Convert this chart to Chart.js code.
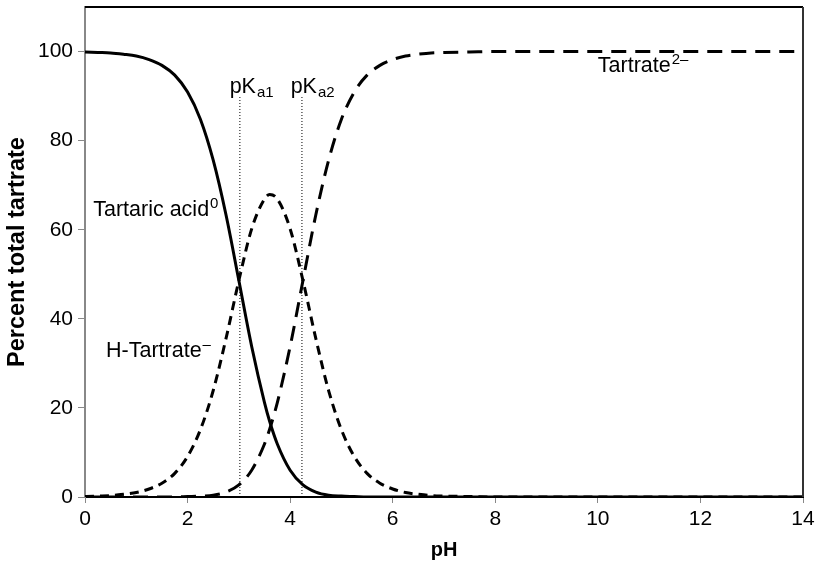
<!DOCTYPE html>
<html>
<head>
<meta charset="utf-8">
<script src="https://cdn.jsdelivr.net/npm/chart.js@4.4.0/dist/chart.umd.min.js"></script>
<style>
  body { margin: 0; background: #fff; }
  #wrap { width: 818px; height: 562px; }
</style>
</head>
<body>
<div id="wrap"><canvas id="speciesChart" width="818" height="562"></canvas></div>
<script>
    // pH grid and species percentages
    const phValues = [0, 0.25, 0.5, 0.75, 1, 1.25, 1.5, 1.75, 2, 2.25, 2.5, 2.75, 3, 3.25, 3.5, 3.6, 3.75,
      4, 4.25, 4.5, 4.75, 5, 5.25, 5.5, 5.75, 6, 6.25, 6.5, 6.75, 7, 7.5, 8, 9, 10, 11, 12, 13, 14];
    const tartaricAcid = [99.9, 99.8, 99.7, 99.4, 99.0, 98.2, 96.9, 94.7, 90.9, 84.8, 75.6, 63.3, 48.6, 33.8, 21.2, 17.0, 11.9,
      6.0, 2.7, 1.1, 0.4, 0.2, 0.1, 0, 0, 0, 0, 0, 0, 0, 0, 0, 0, 0, 0, 0, 0, 0];
    const hTartrate = [0.1, 0.2, 0.3, 0.6, 1.0, 1.8, 3.1, 5.3, 9.1, 15.1, 23.9, 35.6, 48.6, 60.2, 66.9, 67.9, 66.9,
      60.2, 48.6, 35.6, 23.9, 15.1, 9.1, 5.3, 3.1, 1.8, 1.0, 0.6, 0.3, 0.2, 0.1, 0, 0, 0, 0, 0, 0, 0];
    const tartrate = [0, 0, 0, 0, 0, 0, 0, 0, 0.1, 0.2, 0.4, 1.1, 2.7, 6.0, 11.9, 15.2, 21.2,
      33.8, 48.6, 63.3, 75.6, 84.8, 90.9, 94.7, 96.9, 98.2, 99.0, 99.4, 99.7, 99.8, 99.9, 100, 100, 100, 100, 100, 100, 100];
    const pKaValues = [3.02, 4.23];
    const pKaLineTop = 90;
    const yTicks = [0, 20, 40, 60, 80, 100];

    const FONT = "'Liberation Sans', Arial, Helvetica, sans-serif";

    function toPoints(ys) {
      return phValues.map((x, i) => ({ x: x, y: ys[i] }));
    }

    const curveStyle = {
      borderColor: '#000',
      borderWidth: 3,
      pointRadius: 0,
      fill: false,
      cubicInterpolationMode: 'monotone',
      borderCapStyle: 'butt'
    };

    const pKaLines = pKaValues.map(v => ({
      data: [{ x: v, y: 0 }, { x: v, y: pKaLineTop }],
      borderColor: '#000',
      borderWidth: 1,
      borderDash: [1, 2],
      pointRadius: 0,
      fill: false
    }));

    // text labels with sub/superscripts, placed in data coordinates
    const labels = [
      { x: 0.16, y: 63.1, parts: [['Tartaric acid', 'n'], ['0', 'sup']] },
      { x: 0.41, y: 31.5, parts: [['H-Tartrate', 'n'], ['\u2013', 'sup']] },
      { x: 2.82, y: 90.8, parts: [['pK', 'n'], ['a1', 'sub']] },
      { x: 4.01, y: 90.8, parts: [['pK', 'n'], ['a2', 'sub']] },
      { x: 10.0, y: 95.3, parts: [['Tartrate', 'n'], ['2\u2013', 'sup']] }
    ];

    const labelPlugin = {
      id: 'labelPlugin',
      afterDraw(chart) {
        const ctx = chart.ctx;
        const xs = chart.scales.x, ys = chart.scales.y;
        const a = chart.chartArea;
        ctx.save();
        // frame top and right
        ctx.lineWidth = 2;
        ctx.strokeStyle = '#000';
        ctx.beginPath();
        ctx.moveTo(a.left, a.top);
        ctx.lineTo(a.right, a.top);
        ctx.stroke();
        ctx.strokeStyle = '#333';
        ctx.beginPath();
        ctx.moveTo(a.right, a.top);
        ctx.lineTo(a.right, a.bottom);
        ctx.stroke();

        ctx.fillStyle = '#000';
        ctx.textBaseline = 'alphabetic';
        ctx.textAlign = 'left';
        labels.forEach(l => {
          let px = xs.getPixelForValue(l.x);
          const py = ys.getPixelForValue(l.y);
          l.parts.forEach(([t, kind]) => {
            if (kind === 'n') {
              ctx.font = '21.5px ' + FONT;
              ctx.fillText(t, px, py);
            } else {
              ctx.font = '15px ' + FONT;
              ctx.fillText(t, px + 1, kind === 'sup' ? py - 8 : py + 4);
            }
            px += ctx.measureText(t).width + (kind === 'n' ? 0 : 1);
          });
        });
        ctx.restore();
      }
    };

    new Chart(document.getElementById('speciesChart'), {
      type: 'line',
      data: {
        datasets: [
          Object.assign({ label: 'Tartaric acid', data: toPoints(tartaricAcid) }, curveStyle),
          Object.assign({ label: 'H-Tartrate', data: toPoints(hTartrate), borderDash: [9, 6] }, curveStyle),
          Object.assign({ label: 'Tartrate', data: toPoints(tartrate), borderDash: [15, 9] }, curveStyle),
          ...pKaLines
        ]
      },
      options: {
        responsive: false,
        animation: false,
        layout: { padding: { left: 0, right: 15, top: 7, bottom: 0 } },
        plugins: { legend: { display: false }, tooltip: { enabled: false } },
        scales: {
          x: {
            type: 'linear',
            min: 0,
            max: 14,
            ticks: { stepSize: 2, color: '#000', font: { family: FONT, size: 21 }, padding: 4, maxRotation: 0 },
            grid: { drawOnChartArea: false, tickLength: 6, color: '#888' },
            border: { color: '#000', width: 2 },
            title: { display: true, text: 'pH', color: '#000', font: { family: FONT, size: 20, weight: 'bold' }, padding: { top: 0, bottom: 0 } },
            afterFit(scale) { scale.height = 65; scale.paddingLeft = 0; scale.paddingRight = 0; }
          },
          y: {
            min: 0,
            max: 110,
            ticks: { stepSize: 20, color: '#000', font: { family: FONT, size: 21 }, padding: 5 },
            afterBuildTicks(scale) { scale.ticks = yTicks.map(v => ({ value: v })); },
            grid: { drawOnChartArea: false, tickLength: 7, color: '#888' },
            border: { color: '#888', width: 2 },
            title: { display: true, text: 'Percent total tartrate', color: '#000', font: { family: FONT, size: 23.5, weight: 'bold' }, padding: { top: 3, bottom: 0 } },
            afterFit(scale) { scale.width = 85; scale.paddingTop = 0; scale.paddingBottom = 0; }
          }
        }
      },
      plugins: [labelPlugin]
    });
</script>
</body>
</html>
